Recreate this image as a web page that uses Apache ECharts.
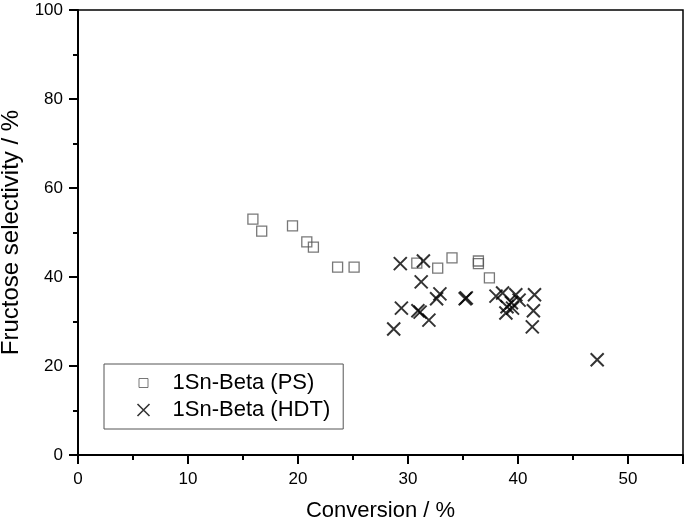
<!DOCTYPE html>
<html>
<head>
<meta charset="utf-8">
<script src="https://cdn.jsdelivr.net/npm/echarts@6/dist/echarts.min.js"></script>
<style>html,body{margin:0;padding:0;background:#fff}#c{width:685px;height:521px}</style>
</head>
<body>
<div id="c"></div>
<script>
const psData = [
  [15.9, 53.0], [16.7, 50.3], [19.5, 51.5], [20.8, 47.9], [21.4, 46.7],
  [23.6, 42.2], [25.1, 42.2], [30.8, 43.1], [32.7, 42.0], [34.0, 44.3],
  [36.4, 43.6], [36.4, 43.0], [37.4, 39.8]
];
const hdtData = [
  [29.3, 43.0], [31.4, 43.6], [31.2, 38.9], [32.9, 36.2], [32.6, 35.1],
  [35.2, 35.1], [35.3, 35.3], [29.4, 33.0], [30.9, 32.4], [31.1, 32.1],
  [31.9, 30.3], [28.7, 28.3], [38.0, 35.7], [38.6, 36.4], [39.8, 36.0],
  [39.0, 33.3], [39.4, 34.2], [38.9, 31.9], [39.5, 33.0], [40.1, 34.8],
  [41.5, 36.0], [41.4, 32.4], [41.3, 28.8], [47.2, 21.4]
];
const seriesNames = ['1Sn-Beta (PS)', '1Sn-Beta (HDT)'];
const xTitle = 'Conversion / %';
const yTitle = 'Fructose selectivity / %';

const FONT = 'Liberation Sans, Arial, sans-serif';
const cross = 'path://M0,0L10,10M10,0L0,10';
const smallSquare = 'path://M0,0L0,0M12,12L12,12M1.5,1.5L10.5,1.5L10.5,10.5L1.5,10.5Z';
const chart = echarts.init(document.getElementById('c'), null, {renderer: 'canvas'});
chart.setOption({
  backgroundColor: '#fff',
  animation: false,
  grid: {left: 78, right: 2, top: 10, bottom: 66, containLabel: false, outerBoundsMode: 'none',
    show: true, borderColor: '#000', borderWidth: 1.5, backgroundColor: 'transparent'},
  legend: {
    orient: 'vertical', left: 104, top: 364,
    borderColor: '#555', borderWidth: 1,
    padding: [8, 13, 8, 31],
    itemGap: 5, itemWidth: 12, itemHeight: 12,
    textStyle: {fontFamily: FONT, fontSize: 22, color: '#000', padding: [0, 0, 0, 18]},
    data: [
      {name: seriesNames[0], icon: smallSquare, itemStyle: {color: 'none', borderColor: '#555', borderWidth: 1}},
      {name: seriesNames[1], icon: cross, itemStyle: {color: 'none', borderColor: '#000', borderWidth: 1.6}}
    ]
  },
  xAxis: {
    type: 'value', min: 0, max: 55, interval: 10,
    name: xTitle, nameLocation: 'middle', nameGap: 45,
    nameTextStyle: {fontFamily: FONT, fontSize: 22, color: '#000'},
    axisLine: {onZero: false, lineStyle: {color: '#000', width: 2}},
    axisTick: {inside: false, length: 9, lineStyle: {color: '#000', width: 2}},
    minorTick: {show: true, splitNumber: 2, length: 5, lineStyle: {color: '#000', width: 2}},
    axisLabel: {fontFamily: FONT, fontSize: 17, color: '#000', margin: 16,
      formatter: v => (v % 10 === 0 ? String(v) : '')},
    splitLine: {show: false}
  },
  yAxis: {
    type: 'value', min: 0, max: 100, interval: 20,
    name: yTitle, nameLocation: 'middle', nameGap: 49,
    nameTextStyle: {fontFamily: FONT, fontSize: 24, color: '#000'},
    axisLine: {onZero: false, lineStyle: {color: '#000', width: 2}},
    axisTick: {inside: false, length: 9, lineStyle: {color: '#000', width: 2}},
    minorTick: {show: true, splitNumber: 2, length: 5, lineStyle: {color: '#000', width: 2}},
    axisLabel: {fontFamily: FONT, fontSize: 17, color: '#000', margin: 15},
    splitLine: {show: false}
  },
  series: [
    {
      name: seriesNames[0], type: 'scatter', data: psData,
      symbol: 'rect', symbolSize: 10,
      itemStyle: {color: 'none', borderColor: '#555', borderWidth: 1.3}
    },
    {
      name: seriesNames[1], type: 'scatter', data: hdtData,
      symbol: cross, symbolSize: 13,
      itemStyle: {color: 'none', borderColor: '#000', borderWidth: 2}
    }
  ]
});
</script>
</body>
</html>
